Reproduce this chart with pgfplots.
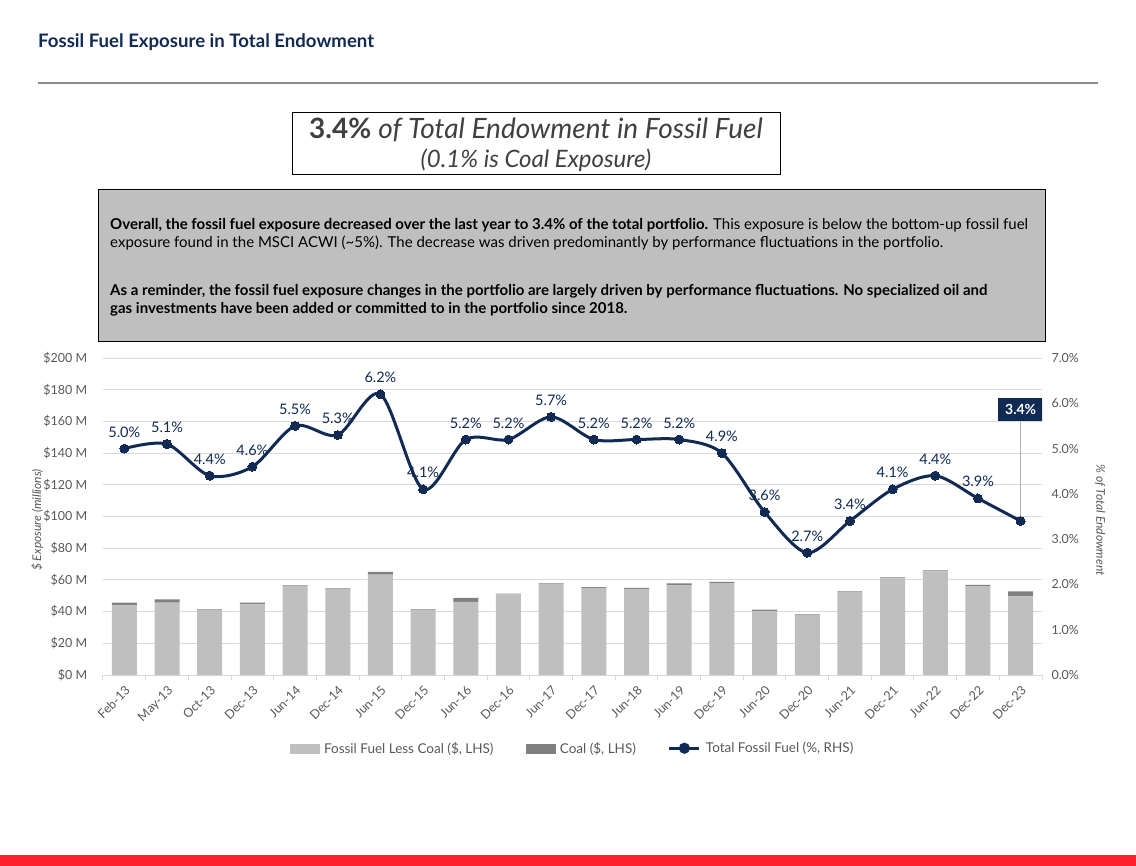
\documentclass[border=0pt]{standalone}
\usepackage{fontspec}
\setmainfont{Lato}
\usepackage{pgfplots}
\pgfplotsset{compat=1.18}

\definecolor{navy}{RGB}{16,42,84}
\definecolor{ticktext}{RGB}{89,89,89}
\definecolor{gridgray}{RGB}{217,217,217}
\definecolor{barlight}{RGB}{191,191,191}
\definecolor{bardark}{RGB}{128,128,128}
\definecolor{boxgray}{RGB}{191,191,191}
\definecolor{rulegray}{RGB}{140,140,140}
\definecolor{boxtext}{RGB}{64,64,64}
\definecolor{redbar}{RGB}{255,32,45}

\begin{document}
\begin{tikzpicture}
\path[use as bounding box] (0,0) rectangle (1136pt,-866pt);
\fill[white] (0,0) rectangle (1136pt,-866pt);

% header
\node[anchor=base west, inner sep=0, text=navy, font=\fontsize{18.6}{22}\selectfont\bfseries]
  at (38pt,-48pt) {Fossil Fuel Exposure in Total Endowment};
\draw[rulegray, line width=2pt] (38pt,-83pt) -- (1098pt,-83pt);

% headline box
\draw[black, line width=0.8pt, fill=white] (292pt,-112pt) rectangle (780pt,-174pt);
\node[anchor=base, inner sep=0, text=boxtext, font=\fontsize{28}{32}\selectfont]
  at (536pt,-139pt) {\textbf{3.4\%} \textit{of Total Endowment in Fossil Fuel}};
\node[anchor=base, inner sep=0, text=boxtext, font=\fontsize{24}{28}\selectfont\itshape]
  at (536pt,-168pt) {(0.1\% is Coal Exposure)};

% commentary box
\draw[black, line width=1pt, fill=boxgray] (98pt,-190pt) rectangle (1045pt,-342pt);
\begin{scope}[every node/.style={anchor=base west, inner sep=0, text=black, font=\fontsize{15}{18}\selectfont}]
\node at (110pt,-230pt) {\makebox[918pt][s]{\textbf{Overall, the fossil fuel exposure decreased over the last year to 3.4\% of the total portfolio.} This exposure is below the bottom-up fossil fuel}};
\node at (110pt,-248pt) {exposure found in the MSCI ACWI (\textasciitilde5\%). The decrease was driven predominantly by performance fluctuations in the portfolio.};
\node at (110pt,-296pt) {\bfseries As a reminder, the fossil fuel exposure changes in the portfolio are largely driven by performance fluctuations. No specialized oil and};
\node at (110pt,-314pt) {\bfseries gas investments have been added or committed to in the portfolio since 2018.};
\end{scope}

% bottom red band
\fill[redbar] (0,-855pt) rectangle (1136pt,-866pt);

% left axis: bars
\begin{axis}[
    at={(103pt,-675pt)}, anchor=south west,
    scale only axis, width=939pt, height=317pt,
    xmin=-0.5, xmax=21.5, ymin=0, ymax=200,
    ybar stacked, bar width=25pt,
    xtick={0,...,21},
    xticklabels={Feb-13,May-13,Oct-13,Dec-13,Jun-14,Dec-14,Jun-15,Dec-15,Jun-16,Dec-16,Jun-17,Dec-17,Jun-18,Jun-19,Dec-19,Jun-20,Dec-20,Jun-21,Dec-21,Jun-22,Dec-22,Dec-23},
    minor xtick={-0.5,0.5,...,21.5},
    major x tick style={draw=none},
    minor x tick style={gridgray, line width=1pt},
    tick align=outside, minor tick length=5pt,
    ytick={0,20,...,200},
    yticklabel={\$\pgfmathprintnumber{\tick} M},
    y tick style={draw=none},
    ymajorgrids, grid style={gridgray, line width=1pt},
    axis x line*=bottom, axis y line*=left,
    y axis line style={draw=none},
    x axis line style={gridgray, line width=1pt, -},
    /pgf/number format/assume math mode=true,
    ticklabel style={text=ticktext, font=\fontsize{12.5}{15}\selectfont},
    yticklabel style={xshift=-8pt},
    xticklabel style={rotate=45, anchor=north east, inner sep=1pt, xshift=-3pt, yshift=-3pt},
    ylabel={\$ Exposure (millions)},
    ylabel style={at={(axis description cs:-0.070,0.489)}, anchor=center, text=ticktext, font=\fontsize{12}{14}\selectfont\itshape},
]
\addplot[fill=barlight, draw=none] coordinates {
 (0,44.0) (1,45.6) (2,41.1) (3,44.6) (4,56.0) (5,54.2) (6,63.3) (7,40.9)
 (8,46.1) (9,50.9) (10,57.3) (11,55.0) (12,54.4) (13,56.5) (14,57.9) (15,40.5)
 (16,37.7) (17,52.3) (18,61.0) (19,65.4) (20,56.0) (21,49.6)};
\addplot[fill=bardark, draw=none] coordinates {
 (0,1.7) (1,2.1) (2,0.3) (3,1.0) (4,0.6) (5,0.5) (6,1.7) (7,0.5)
 (8,2.5) (9,0.4) (10,0.5) (11,0.5) (12,0.5) (13,1.3) (14,0.8) (15,0.7)
 (16,0.6) (17,0.5) (18,0.6) (19,0.6) (20,0.8) (21,3.2)};
\end{axis}

% right axis: share of endowment
\begin{axis}[
    at={(103pt,-675pt)}, anchor=south west,
    scale only axis, width=939pt, height=317pt,
    xmin=-0.5, xmax=21.5, ymin=0, ymax=7,
    axis x line=none, axis y line*=right,
    y axis line style={draw=none}, y tick style={draw=none},
    ytick={0,...,7},
    yticklabel={\pgfmathprintnumber[fixed,fixed zerofill,precision=1]{\tick}\%},
    /pgf/number format/assume math mode=true,
    ticklabel style={text=ticktext, font=\fontsize{12.5}{15}\selectfont},
    yticklabel style={xshift=6pt},
    ylabel={\% of Total Endowment},
    ylabel style={at={(axis description cs:1.0618,0.489)}, anchor=center, rotate=180, text=ticktext, font=\fontsize{12}{14}\selectfont\itshape},
    legend columns=3,
    legend style={draw=none, fill=none, at={(0.5,-0.231)}, anchor=center,
        font=\fontsize{13.5}{16}\selectfont, text=ticktext,
        /tikz/every odd column/.append style={column sep=3pt},
        /tikz/every even column/.append style={column sep=30pt}},
]
\addlegendimage{legend image code/.code={\fill[barlight] (0pt,-4.5pt) rectangle (29pt,4.5pt);}}
\addlegendentry{Fossil Fuel Less Coal (\$, LHS)}
\addlegendimage{legend image code/.code={\fill[bardark] (0pt,-4.5pt) rectangle (29pt,4.5pt);}}
\addlegendentry{Coal (\$, LHS)}
\addplot[navy, line width=3pt, smooth, mark=*, mark size=4.5pt, mark options={fill=navy, line width=0pt},
    nodes near coords, point meta=explicit symbolic,
    every node near coord/.style={font=\fontsize{14.5}{17}\selectfont, text=navy, anchor=south, yshift=8pt},
    legend image code/.code={\draw[navy, line width=3pt] (0pt,0pt) -- (30pt,0pt); \fill[navy] (15pt,0pt) circle (4pt);}]
  coordinates {
 (0,5.0) [5.0\%] (1,5.1) [5.1\%] (2,4.4) [4.4\%] (3,4.6) [4.6\%] (4,5.5) [5.5\%]
 (5,5.3) [5.3\%] (6,6.2) [6.2\%] (7,4.1) [4.1\%] (8,5.2) [5.2\%] (9,5.2) [5.2\%]
 (10,5.7) [5.7\%] (11,5.2) [5.2\%] (12,5.2) [5.2\%] (13,5.2) [5.2\%] (14,4.9) [4.9\%]
 (15,3.6) [3.6\%] (16,2.7) [2.7\%] (17,3.4) [3.4\%] (18,4.1) [4.1\%] (19,4.4) [4.4\%]
 (20,3.9) [3.9\%] (21,3.4) [{}]};
\addlegendentry{Total Fossil Fuel (\%, RHS)}
\draw[gray!60, line width=0.8pt] (axis cs:21,3.42) -- (axis cs:21,5.6);
\node[fill=navy, text=white, font=\fontsize{14}{16}\selectfont\bfseries, minimum width=45pt, minimum height=23pt, inner sep=2pt]
  at (axis cs:21,5.86) {3.4\%};
\end{axis}
\end{tikzpicture}
\end{document}
